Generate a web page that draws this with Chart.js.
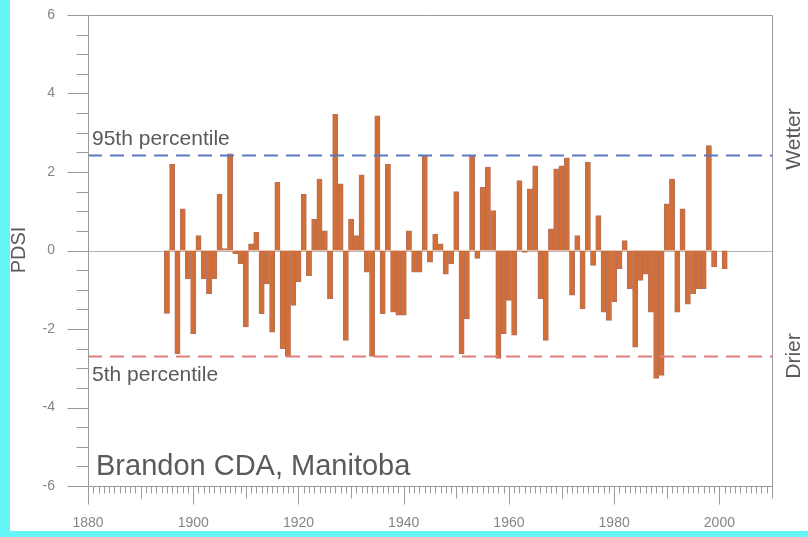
<!DOCTYPE html>
<html>
<head>
<meta charset="utf-8">
<script src="https://cdn.jsdelivr.net/npm/chart.js@4.4.1/dist/chart.umd.min.js"></script>
<style>
  html, body { margin: 0; padding: 0; background: #fff; }
  #wrap { width: 808px; height: 537px; }
</style>
</head>
<body>
<div id="wrap"><canvas id="chart" width="808" height="537"></canvas></div>
<script>
// PDSI, Brandon CDA, one value per year
const years = [
  1895, 1896, 1897, 1898, 1899, 1900, 1901, 1902, 1903, 1904,
  1905, 1906, 1907, 1908, 1909, 1910, 1911, 1912, 1913, 1914,
  1915, 1916, 1917, 1918, 1919, 1920, 1921, 1922, 1923, 1924,
  1925, 1926, 1927, 1928, 1929, 1930, 1931, 1932, 1933, 1934,
  1935, 1936, 1937, 1938, 1939, 1940, 1941, 1942, 1943, 1944,
  1945, 1946, 1947, 1948, 1949, 1950, 1951, 1952, 1953, 1954,
  1955, 1956, 1957, 1958, 1959, 1960, 1961, 1962, 1963, 1964,
  1965, 1966, 1967, 1968, 1969, 1970, 1971, 1972, 1973, 1974,
  1975, 1976, 1977, 1978, 1979, 1980, 1981, 1982, 1983, 1984,
  1985, 1986, 1987, 1988, 1989, 1990, 1991, 1992, 1993, 1994,
  1995, 1996, 1997, 1998, 1999, 2000, 2001
];
const pdsi = [
  -1.6, 2.2, -2.63, 1.06, -0.72, -2.12, 0.38, -0.72, -1.1, -0.72,
  1.44, 0.05, 2.46, -0.08, -0.34, -1.95, 0.17, 0.47, -1.61, -0.85,
  -2.08, 1.74, -2.5, -2.7, -1.4, -0.8, 1.44, -0.64, 0.8, 1.82,
  0.5, -1.23, 3.47, 1.7, -2.29, 0.8, 0.38, 1.93, -0.55, -2.7,
  3.43, -1.61, 2.2, -1.57, -1.65, -1.65, 0.5, -0.55, -0.55, 2.42,
  -0.3, 0.42, 0.17, -0.6, -0.34, 1.5, -2.63, -1.74, 2.42, -0.2,
  1.61, 2.12, 1.02, -2.75, -2.12, -1.27, -2.16, 1.78, -0.05, 1.57,
  2.16, -1.23, -2.29, 0.55, 2.08, 2.16, 2.36, -1.14, 0.38, -1.48,
  2.25, -0.38, 0.89, -1.57, -1.78, -1.31, -0.47, 0.25, -0.97, -2.46,
  -0.76, -0.6, -1.57, -3.26, -3.18, 1.19, 1.82, -1.57, 1.06, -1.37,
  -1.1, -0.97, -0.97, 2.67, -0.42, 0, -0.47
];
const xTicks = [1880, 1900, 1920, 1940, 1960, 1980, 2000];
const yTicks = [-6, -4, -2, 0, 2, 4, 6];
const pct95 = 2.42;
const pct5 = -2.7;

const X_MIN = 1880, X_MAX = 2010;
const GREY = '#9a9a9a';
const TEXT = '#5a5a5a';
const FONT = '"Liberation Sans", Arial, sans-serif';

// background, frame, minor ticks and the free text
const decor = {
  id: 'decor',
  beforeDraw(chart) {
    const { ctx, width, height } = chart;
    ctx.save();
    ctx.fillStyle = '#fff';
    ctx.fillRect(0, 0, width, height);
    ctx.fillStyle = '#66f6f7';
    ctx.fillRect(0, 0, 10, height);
    ctx.fillRect(0, 531, width, height - 531);
    ctx.restore();
  },
  beforeDatasetsDraw(chart) {
    const { ctx, chartArea: a, scales: { y } } = chart;
    const y0 = Math.round(y.getPixelForValue(0)) + 0.5;
    ctx.save();
    ctx.strokeStyle = '#b4b4b4';
    ctx.lineWidth = 1;
    ctx.beginPath();
    ctx.moveTo(a.left, y0);
    ctx.lineTo(a.right, y0);
    ctx.stroke();
    ctx.restore();
  },
  afterDraw(chart) {
    const { ctx, chartArea: a, scales: { x, y } } = chart;
    ctx.save();
    ctx.strokeStyle = GREY;
    ctx.lineWidth = 1;
    const L = Math.round(a.left) + 0.5, R = Math.round(a.right) + 0.5;
    const T = Math.round(a.top) + 0.5, B = Math.round(a.bottom) + 0.5;
    ctx.beginPath();
    ctx.moveTo(L, T); ctx.lineTo(R, T); ctx.lineTo(R, B); ctx.lineTo(L, B); ctx.closePath();
    ctx.stroke();

    // y ticks: long every 2, short every 0.5
    ctx.beginPath();
    for (let v = -6; v <= 6; v += 0.5) {
      const py = Math.round(y.getPixelForValue(v)) + 0.5;
      const len = v % 2 === 0 ? 21 : 12;
      ctx.moveTo(L - len, py);
      ctx.lineTo(L, py);
    }
    // x ticks: every year, longer each decade
    for (let yr = X_MIN; yr <= X_MAX; yr++) {
      const px = Math.round(x.getPixelForValue(yr)) + 0.5;
      const len = yr % 20 === 0 ? 18 : (yr % 10 === 0 ? 12 : 7);
      ctx.moveTo(px, B);
      ctx.lineTo(px, B + len);
    }
    ctx.stroke();

    ctx.fillStyle = TEXT;
    ctx.textBaseline = 'alphabetic';
    ctx.textAlign = 'left';
    ctx.font = '21px ' + FONT;
    ctx.fillText('95th percentile', 92, 145);
    ctx.fillText('5th percentile', 92, 381);
    ctx.font = '29px ' + FONT;
    ctx.fillText('Brandon CDA, Manitoba', 96, 475);

    ctx.textAlign = 'center';
    ctx.textBaseline = 'middle';
    ctx.font = '20px ' + FONT;
    ctx.translate(19, 250);
    ctx.rotate(-Math.PI / 2);
    ctx.fillText('PDSI', 0, 0);
    ctx.setTransform(1, 0, 0, 1, 0, 0);

    ctx.font = '21px ' + FONT;
    ctx.translate(794, 139);
    ctx.rotate(-Math.PI / 2);
    ctx.fillText('Wetter', 0, 0);
    ctx.setTransform(1, 0, 0, 1, 0, 0);
    ctx.translate(794, 356);
    ctx.rotate(-Math.PI / 2);
    ctx.fillText('Drier', 0, 0);
    ctx.restore();
  }
};

const bars = years.map((yr, i) => ({ x: yr, y: pdsi[i] }));

new Chart(document.getElementById('chart'), {
  type: 'bar',
  data: {
    datasets: [
      {
        type: 'line',
        data: [{ x: X_MIN, y: pct95 }, { x: X_MAX, y: pct95 }],
        borderColor: '#5b79c2',
        borderWidth: 2,
        borderDash: [14, 8],
        pointRadius: 0,
        order: 0
      },
      {
        type: 'line',
        data: [{ x: X_MIN, y: pct5 }, { x: X_MAX, y: pct5 }],
        borderColor: '#e17c7c',
        borderWidth: 2,
        borderDash: [14, 8],
        pointRadius: 0,
        order: 0
      },
      {
        type: 'bar',
        data: bars,
        backgroundColor: '#d36e36',
        borderColor: '#b5715a',
        borderWidth: 1,
        barPercentage: 1,
        categoryPercentage: 1,
        order: 1
      }
    ]
  },
  options: {
    responsive: false,
    animation: false,
    layout: { padding: { left: 0, right: 36, top: 15, bottom: 0 } },
    plugins: { legend: { display: false }, tooltip: { enabled: false } },
    scales: {
      x: {
        type: 'linear',
        min: X_MIN,
        max: X_MAX,
        offset: false,
        afterBuildTicks: (s) => { s.ticks = xTicks.map(v => ({ value: v })); },
        afterFit: (s) => { s.height = 51; s.paddingLeft = 0; s.paddingRight = 0; },
        grid: { display: false, drawTicks: false },
        border: { display: false },
        ticks: {
          padding: 29,
          maxRotation: 0,
          autoSkip: false,
          color: '#858585',
          font: { family: FONT, size: 14 },
          callback: (v) => String(v)
        }
      },
      y: {
        min: -6,
        max: 6,
        afterBuildTicks: (s) => { s.ticks = yTicks.map(v => ({ value: v })); },
        afterFit: (s) => { s.width = 88; s.paddingTop = 0; s.paddingBottom = 0; },
        grid: { display: false, drawTicks: false },
        border: { display: false },
        ticks: {
          padding: 33,
          color: '#858585',
          font: { family: FONT, size: 14 }
        }
      }
    }
  },
  plugins: [decor]
});
</script>
</body>
</html>
